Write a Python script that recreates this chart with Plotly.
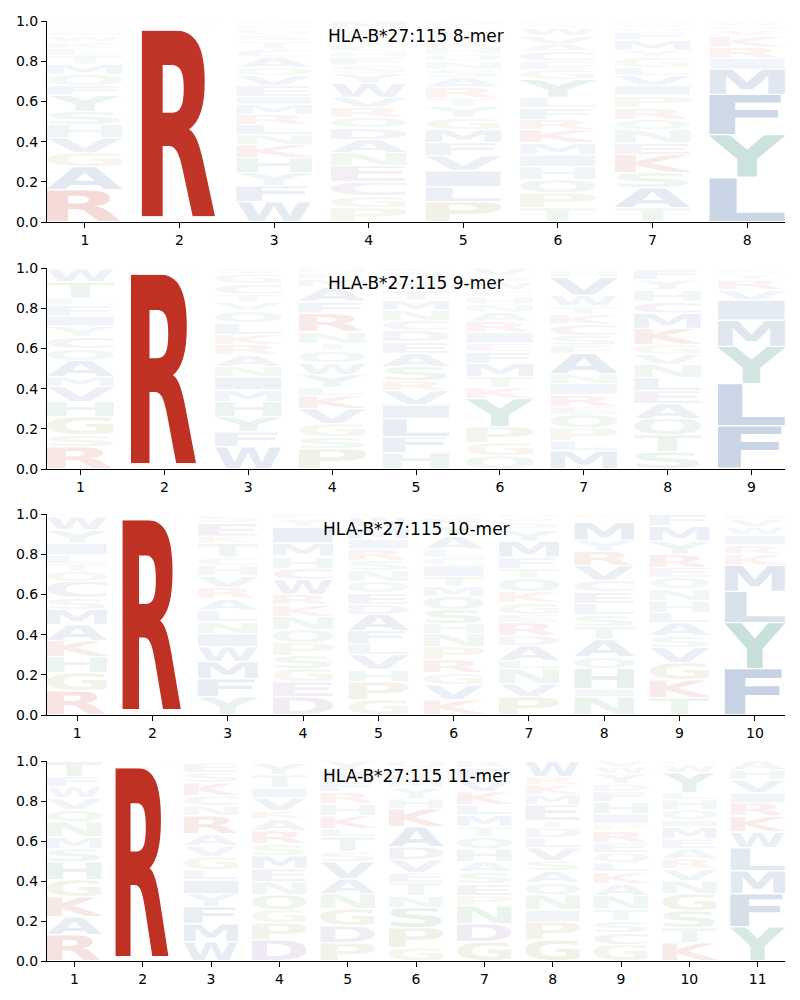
import base64
import plotly.graph_objects as go

# ---------------- data (letters listed bottom -> top, values are probabilities) -------------
panel_titles = ["HLA-B*27:115 8-mer", "HLA-B*27:115 9-mer",
                "HLA-B*27:115 10-mer", "HLA-B*27:115 11-mer"]

mer8_letters = ["RAGVHSYFQMTLKWENDCP", "KRTQSH", "WFYHKNLRMIEVQACTSGPD",
                "PGCENADQRVWYSFHLTKIM", "PLIVFMGYTRASNQHKEWCD", "TPQHIMKRFLYGECAVWSD",
                "TASKENQRPIVLGYMFDWH", "LYFMIRKVHW"]
mer8_values = [
    [.16, .115, .07, .075, .065, .065, .08, .05, .055, .05, .045, .035, .03, .03, .02, .015, .01, .015, .015],
    [.025, .93, .015, .01, .01, .01],
    [.10, .08, .065, .075, .065, .05, .05, .05, .05, .04, .055, .05, .04, .05, .04, .04, .03, .03, .02, .02],
    [.07, .06, .07, .08, .065, .065, .06, .05, .05, .05, .07, .05, .04, .04, .03, .03, .03, .03, .02, .04],
    [.10, .075, .08, .075, .065, .065, .06, .055, .04, .055, .05, .04, .04, .035, .035, .03, .03, .025, .02, .025],
    [.07, .075, .065, .065, .06, .06, .065, .05, .06, .05, .09, .05, .04, .05, .035, .04, .04, .02, .015],
    [.07, .10, .075, .09, .06, .065, .05, .06, .06, .05, .05, .04, .05, .035, .05, .04, .02, .02, .015],
    [.22, .215, .2, .125, .055, .055, .055, .03, .02, .02],
]

mer9_letters = ["RSGHVMAQCYIFLTWK", "KRTSH", "WFYHMINARKLQVTCGS", "PSGVKLYWQTNRFAMEH",
                "HFLIVRSAEDCNMTYQWK", "QGPYKTMFEIRANHCWSV", "MLPQERINAFSCKTWVHG",
                "STQAELNVGKMCHYFI", "FLYMIVRYK"]
mer9_values = [
    [.11, .06, .09, .075, .075, .05, .08, .06, .06, .05, .05, .055, .035, .08, .065, .005],
    [.025, .945, .01, .01, .01],
    [.11, .075, .075, .075, .06, .065, .05, .06, .05, .05, .06, .06, .04, .04, .05, .05, .03],
    [.1, .06, .065, .075, .065, .04, .065, .06, .06, .035, .06, .09, .06, .07, .04, .03, .025],
    [.08, .08, .09, .07, .07, .05, .07, .065, .06, .055, .05, .05, .05, .05, .04, .02, .03, .02],
    [.065, .065, .08, .14, .055, .055, .065, .06, .04, .055, .055, .045, .04, .04, .03, .04, .03, .04],
    [.09, .05, .065, .065, .04, .06, .055, .05, .10, .04, .05, .055, .05, .04, .055, .09, .03, .015],
    [.085, .085, .08, .075, .065, .065, .065, .05, .05, .08, .075, .06, .055, .05, .05, .01],
    [.215, .21, .185, .13, .10, .05, .05, .03, .02],
]

mer10_letters = ["RGHKAMSCQTLIYWF", "KRTSH", "YFMWINLARVHCTKESQ", "DEGSPQNKRWCHMIYF",
                 "GPHVLFADEQNSRIMWC", "KVGRPNHSQMTICLAYFW", "PVNLADREGKQTFMYSWH",
                 "NIHQATSLECVRYMGK", "TKGVSALHNQERYMF", "FYLMKRIWVH"]
mer10_values = [
    [.12, .09, .08, .08, .08, .075, .06, .08, .05, .04, .04, .06, .065, .065, .015],
    [.027, .945, .01, .01, .008],
    [.09, .09, .085, .075, .065, .06, .055, .06, .055, .06, .05, .04, .07, .035, .065, .035, .01],
    [.09, .075, .065, .065, .065, .065, .065, .06, .05, .075, .055, .06, .065, .08, .04, .025],
    [.075, .09, .06, .075, .055, .065, .08, .05, .06, .055, .055, .05, .055, .05, .06, .05, .015],
    [.075, .075, .06, .065, .065, .065, .05, .07, .065, .05, .05, .055, .04, .04, .065, .05, .04, .02],
    [.09, .065, .075, .04, .075, .05, .065, .04, .06, .055, .065, .05, .055, .08, .06, .035, .02, .02],
    [.09, .04, .10, .06, .085, .065, .06, .055, .06, .055, .075, .07, .055, .09, .02, .02],
    [.085, .09, .085, .075, .06, .065, .05, .06, .06, .055, .05, .065, .065, .075, .06],
    [.23, .23, .155, .13, .055, .045, .05, .04, .04, .02],
]

mer11_letters = ["RAKGHSMNQVWFT", "KRTSH", "WMFYILGVARNCKSET", "DPGQNEMSRAKVITYF",
                 "PDGNAVSTLKHRFMY", "GPSNTEVDAKHYMRLQ", "GDNPESAHQTMLKVFR",
                 "GPINQASVLDTEMKRW", "GCSTNAKLQERPIHFDYWV", "KTSGNVRAEMIQHLYWD",
                 "YFMLWKRIVHA"]
mer11_values = [
    [.13, .09, .10, .085, .09, .065, .06, .075, .06, .06, .055, .05, .08],
    [.022, .945, .012, .011, .01],
    [.095, .09, .085, .065, .07, .05, .065, .055, .06, .09, .05, .05, .065, .05, .05, .01],
    [.105, .085, .065, .075, .065, .065, .065, .06, .065, .06, .04, .065, .05, .065, .06, .01],
    [.09, .085, .085, .075, .075, .085, .05, .075, .04, .065, .06, .06, .05, .055, .05],
    [.065, .1, .1, .06, .065, .05, .065, .065, .1, .09, .05, .055, .04, .03, .03, .035],
    [.095, .09, .09, .05, .06, .06, .05, .065, .06, .05, .06, .05, .065, .06, .06, .035],
    [.105, .09, .06, .075, .06, .06, .05, .065, .05, .05, .035, .08, .05, .05, .04, .08],
    [.08, .06, .06, .06, .065, .06, .06, .045, .05, .05, .06, .035, .05, .06, .05, .04, .05, .035, .03],
    [.09, .075, .085, .085, .065, .06, .05, .05, .05, .06, .035, .05, .05, .035, .10, .04, .02],
    [.17, .165, .115, .115, .08, .08, .065, .05, .065, .05, .045],
]

panels = [(mer8_letters, mer8_values), (mer9_letters, mer9_values),
          (mer10_letters, mer10_values), (mer11_letters, mer11_values)]

# ---------------- styles ----------------
RED, NAVY, TEAL = "#bc2617", "#11458d", "#177d6a"
OLIVE, GREEN, PURPLE = "#8a8020", "#2a8c3a", "#6b3d8a"
COLORS = {}
for aa in "RK":
    COLORS[aa] = RED
for aa in "AVILMFW":
    COLORS[aa] = NAVY
for aa in "YH":
    COLORS[aa] = TEAL
for aa in "GP":
    COLORS[aa] = OLIVE
for aa in "NQST":
    COLORS[aa] = GREEN
for aa in "DEC":
    COLORS[aa] = PURPLE

# approximate ink side-bearings of DejaVu Sans Bold capitals (fraction of advance)
BEARINGS = {"A": (.005, .005), "C": (.065, .08), "D": (.11, .06), "E": (.133, .1),
            "F": (.144, .08), "G": (.06, .08), "H": (.109, .109), "I": (.245, .245),
            "K": (.117, .0), "L": (.143, .04), "M": (.091, .091), "N": (.109, .109),
            "P": (.124, .06), "Q": (.057, .057), "R": (.118, .0), "S": (.075, .075),
            "T": (.01, .01), "V": (.005, .005), "W": (.02, .02), "Y": (.0, .0)}

_cache = {}


def glyph_uri(letter):
    if letter not in _cache:
        l, r = BEARINGS.get(letter, (.07, .07))
        x0, w = l * 100, (1 - l - r) * 100
        svg = ("<svg xmlns='http://www.w3.org/2000/svg' "
               f"viewBox='{x0:.2f} 27.1 {w:.2f} 72.9' preserveAspectRatio='none'>"
               "<text x='0' y='100' font-family='DejaVu Sans' font-weight='bold' "
               "font-size='100' textLength='100' lengthAdjust='spacingAndGlyphs' "
               f"fill='{COLORS[letter]}'>{letter}</text></svg>")
        _cache[letter] = "data:image/svg+xml;base64," + base64.b64encode(svg.encode()).decode()
    return _cache[letter]


# ---------------- layout geometry (the page body adds an 8px offset) ----------------
W, H = 792, 992
ML, MR, MT, MB = 39, 15, 13, 39
plot_h = H - MT - MB
panel_px = [(13, 214), (260, 461), (506, 707), (753, 953)]
LETTER_W = 0.8
VPAD = 0.003

fig = go.Figure()
images = []
annotations = []
layout_axes = {}

for i, ((letters, values), title) in enumerate(zip(panels, panel_titles)):
    k = "" if i == 0 else str(i + 1)
    xa, ya = "x" + k, "y" + k
    n = len(letters)
    positions = list(range(1, n + 1))
    totals = [sum(v) for v in values]
    fig.add_trace(go.Scatter(x=positions, y=totals, mode="markers",
                             marker=dict(opacity=0), hoverinfo="skip",
                             showlegend=False, xaxis=xa, yaxis=ya))
    for pos, lets, vals in zip(positions, letters, values):
        bottom = 0.0
        for aa, v in zip(lets, vals):
            images.append(dict(
                source=glyph_uri(aa), xref=xa, yref=ya,
                x=pos - LETTER_W / 2, y=bottom + v - VPAD,
                sizex=LETTER_W, sizey=max(v - 2 * VPAD, 0.001),
                xanchor="left", yanchor="top", sizing="stretch",
                opacity=min(1.0, v), layer="above"))
            bottom += v
    top_px, bot_px = panel_px[i]
    dom = [1 - (bot_px - MT) / plot_h, 1 - (top_px - MT) / plot_h]
    axis_common = dict(showline=True, linecolor="black", linewidth=1, ticks="outside",
                       ticklen=5, tickwidth=1, tickcolor="black", showgrid=False,
                       zeroline=False, automargin=False,
                       tickfont=dict(size=14, color="black"))
    layout_axes["xaxis" + k] = dict(domain=[0, 1], anchor=ya, range=[0.6, n + 0.4],
                                    tickvals=positions, ticktext=[str(p) for p in positions],
                                    **axis_common)
    layout_axes["yaxis" + k] = dict(domain=dom, anchor=xa, range=[0, 1],
                                    tickvals=[0, .2, .4, .6, .8, 1.0],
                                    ticktext=["0.0", "0.2", "0.4", "0.6", "0.8", "1.0"],
                                    **axis_common)
    annotations.append(dict(text=title, xref=xa + " domain", yref=ya + " domain",
                            x=0.5, y=1 - 15 / (bot_px - top_px), xanchor="center",
                            yanchor="middle", showarrow=False,
                            font=dict(size=17, color="black")))

fig.update_layout(width=W, height=H, margin=dict(l=ML, r=MR, t=MT, b=MB, autoexpand=False),
                  plot_bgcolor="white", paper_bgcolor="white",
                  font=dict(family="DejaVu Sans", color="black"),
                  images=images, annotations=annotations, showlegend=False,
                  **layout_axes)

fig.write_html("out.html")
